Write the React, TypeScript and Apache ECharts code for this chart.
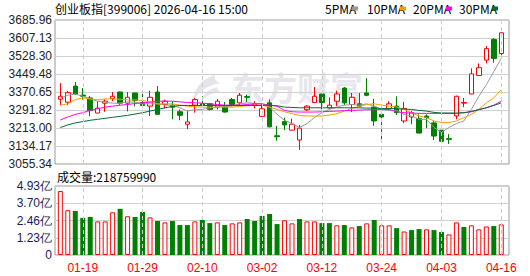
import React, { useEffect, useRef } from "react";
import * as echarts from "echarts";

const dates = ["01-14","01-15","01-16","01-19","01-20","01-21","01-22","01-23","01-26","01-27","01-28","01-29","01-30","02-02","02-03","02-04","02-05","02-06","02-09","02-10","02-11","02-12","02-13","02-24","02-25","02-26","02-27","03-02","03-03","03-04","03-05","03-06","03-09","03-10","03-11","03-12","03-13","03-16","03-17","03-18","03-19","03-20","03-23","03-24","03-25","03-26","03-27","03-30","03-31","04-01","04-02","04-03","04-07","04-08","04-09","04-10","04-13","04-14","04-15","04-16"];

const opens = [3339.0,3326.0,3396.6,3357.0,3344.7,3278.5,3321.7,3341.8,3370.6,3321.7,3366.3,3324.6,3308.7,3370.6,3315.9,3313.0,3284.3,3229.5,3313.0,3318.8,3318.8,3304.4,3308.7,3337.5,3323.1,3350.5,3313.0,3264.1,3323.1,3179.1,3241.0,3203.6,3160.4,3292.9,3324.6,3362.0,3301.5,3330.3,3387.9,3315.9,3318.8,3366.3,3304.4,3272.7,3298.6,3308.7,3243.9,3261.2,3254.0,3265.5,3235.3,3203.6,3166.2,3265.5,3321.7,3362.0,3442.6,3510.3,3601.0,3539.1];
const closes = [3351.9,3367.8,3362.0,3352.0,3290.0,3300.1,3330.3,3351.9,3321.7,3347.6,3333.2,3311.6,3347.6,3272.7,3330.3,3304.0,3268.4,3239.6,3337.5,3313.0,3294.3,3330.3,3282.8,3315.9,3356.3,3347.6,3318.8,3297.2,3218.0,3174.8,3226.6,3229.5,3212.2,3308.7,3351.9,3324.6,3313.0,3362.0,3323.1,3347.6,3308.7,3356.3,3243.9,3261.2,3318.8,3279.9,3298.6,3279.9,3190.7,3258.3,3177.7,3154.6,3163.3,3351.9,3324.6,3449.9,3477.2,3560.7,3517.5,3629.9];
const lows = [3313.0,3313.0,3358.0,3337.6,3264.1,3277.0,3284.0,3330.3,3313.0,3285.7,3307.3,3301.5,3265.5,3271.3,3298.6,3251.0,3246.8,3207.9,3279.9,3311.6,3290.0,3294.3,3279.9,3311.6,3308.7,3327.4,3298.6,3262.6,3215.1,3157.5,3203.6,3200.7,3117.2,3287.1,3323.1,3294.3,3298.6,3308.7,3313.0,3282.8,3304.4,3351.9,3222.3,3157.5,3290.0,3269.9,3233.9,3229.5,3190.7,3212.2,3160.4,3154.6,3143.1,3251.1,3304.4,3360.6,3442.6,3495.9,3498.8,3529.0];
const highs = [3409.5,3375.0,3413.9,3388.0,3353.4,3330.3,3339.0,3370.6,3372.0,3370.6,3367.8,3362.0,3376.4,3396.6,3337.5,3330.0,3294.3,3290.0,3344.7,3351.9,3323.1,3340.4,3327.4,3344.7,3366.3,3359.1,3330.3,3318.8,3337.5,3222.3,3258.3,3254.0,3226.6,3313.0,3392.3,3362.0,3347.6,3376.4,3392.3,3366.3,3366.3,3431.1,3340.4,3274.2,3330.3,3351.9,3327.4,3287.1,3272.7,3272.7,3243.9,3203.6,3186.3,3354.8,3344.7,3474.3,3495.9,3572.3,3606.8,3632.7];

const volumes = [457000000,320000000,315000000,265000000,272000000,240000000,240000000,305000000,330000000,277000000,272000000,308000000,269000000,243000000,233000000,243000000,214000000,214000000,240000000,250000000,228000000,233000000,214000000,226000000,233000000,257000000,243000000,279000000,293000000,221000000,248000000,226000000,257000000,240000000,240000000,228000000,228000000,212000000,214000000,197000000,207000000,226000000,250000000,212000000,212000000,192000000,168000000,178000000,185000000,183000000,178000000,164000000,147000000,233000000,200000000,212000000,183000000,204000000,207000000,218759990];

const ma5 = [3344.7,3356.2,3362.0,3351.9,3340.4,3330.3,3326.0,3321.7,3321.7,3327.4,3326.0,3318.8,3318.8,3318.8,3313.0,3313.0,3301.5,3287.1,3292.9,3294.3,3301.5,3304.4,3307.3,3308.7,3318.8,3323.1,3321.7,3318.8,3304.4,3272.7,3246.8,3232.4,3215.0,3232.4,3258.3,3279.9,3294.3,3304.4,3313.0,3315.9,3313.0,3318.8,3308.7,3294.3,3290.0,3290.0,3272.7,3265.5,3251.1,3251.1,3215.0,3193.5,3215.0,3232.4,3243.9,3294.3,3351.9,3402.3,3459.9,3517.5];
const ma10 = [3313.0,3318.8,3337.5,3344.7,3340.4,3336.1,3340.4,3340.4,3339.0,3336.1,3336.1,3333.2,3327.4,3318.8,3318.8,3318.8,3313.0,3308.7,3305.8,3304.4,3304.4,3304.4,3304.4,3304.4,3307.3,3310.2,3313.0,3313.0,3304.4,3294.3,3284.2,3275.6,3268.4,3265.5,3265.5,3265.5,3269.9,3275.6,3287.1,3298.6,3308.7,3315.9,3318.8,3313.0,3308.7,3304.4,3294.3,3279.9,3265.5,3258.3,3243.9,3236.7,3236.7,3243.9,3258.3,3272.7,3294.3,3323.1,3344.7,3380.7];
const ma20 = [3248.2,3261.2,3272.7,3279.9,3290.0,3297.2,3304.4,3308.7,3313.0,3315.9,3320.3,3323.1,3326.0,3330.3,3330.3,3330.3,3327.4,3324.6,3323.1,3321.7,3318.8,3315.9,3313.0,3313.0,3313.0,3315.9,3318.8,3318.8,3313.0,3308.7,3290.0,3284.2,3282.8,3282.8,3282.8,3284.2,3285.7,3287.1,3288.6,3290.0,3291.4,3292.9,3292.9,3294.3,3294.3,3284.2,3279.9,3278.5,3277.0,3277.0,3277.0,3277.0,3277.0,3277.0,3279.9,3284.2,3294.3,3301.5,3313.0,3330.3];
const ma30 = [3215.0,3226.6,3235.3,3241.0,3246.8,3251.1,3255.4,3259.8,3264.1,3268.4,3274.1,3279.9,3287.1,3294.3,3301.5,3307.3,3311.6,3311.6,3311.6,3311.6,3311.6,3311.6,3311.6,3311.6,3311.6,3311.6,3311.6,3311.6,3313.0,3310.2,3304.4,3303.0,3301.5,3301.5,3301.5,3301.5,3301.5,3301.5,3301.5,3301.5,3301.5,3300.1,3300.1,3298.6,3298.6,3297.2,3295.7,3294.3,3290.0,3287.1,3281.3,3278.5,3278.5,3278.5,3279.9,3285.7,3292.9,3301.5,3311.6,3323.1];

const priceTicks = ["3055.34","3134.17","3213.00","3291.82","3370.65","3449.48","3528.30","3607.13","3685.96"];
const volTicks = ["0","1.23亿","2.46亿","3.70亿","4.93亿"];
const labelDates = ["01-19","01-29","02-10","03-02","03-12","03-24","04-03","04-16"];

const title = "创业板指[399006] 2026-04-16 15:00";
const volTitle = "成交量:218759990";
const maNames = ["5PMA", "10PMA", "20PMA", "30PMA"];
const watermark = "东方财富";

const RED = "#ff0000";
const GREEN = "#008000";
const MA_COLORS = ["#999999", "#f0a000", "#ff00ff", "#006f33"];

echarts.graphic.registerShape(
  "wmlogo",
  echarts.graphic.extendPath(
    "M24 0 C12 3 3 12 2 27 C7 17 14 11 30 8 C25 7 23 4 24 0 Z M26 12 C18 14 12 19 10 27 C15 21 20 18 30 17 C27 16 26 14 26 12 Z",
    {}
  )
);

export default function App() {
  const ref = useRef<HTMLDivElement>(null);
  useEffect(() => {
    const chart = echarts.init(ref.current!, null, { renderer: "svg" });
    const candleData = dates.map((_, i) => [opens[i], closes[i], lows[i], highs[i]]);
    const volData = volumes.map((v, i) => {
      const up = i === 0 ? closes[i] >= opens[i] : closes[i] >= closes[i - 1];
      return {
        value: v,
        itemStyle: up
          ? { color: "#ffffff", borderColor: RED, borderWidth: 1 }
          : { color: GREEN, borderColor: GREEN, borderWidth: 0 },
      };
    });
    const vLines = {
      silent: true,
      symbol: ["none", "none"],
      label: { show: false },
      lineStyle: { color: "#cccccc", type: [4, 3], width: 1 },
      data: labelDates.map((d) => ({ xAxis: d })),
    };
    const font = "'Liberation Sans', Arial, sans-serif";
    const legendX = [325, 367, 413, 459];
    const legendMarkX = [352, 400, 446, 492];
    const graphics: any[] = [
      {
        type: "text",
        left: 55,
        top: 2,
        style: { text: title, fill: "#000", font: "12px 'Noto Sans CJK SC', sans-serif" },
      },
      {
        type: "text",
        left: 57,
        top: 170,
        style: { text: volTitle, fill: "#000", font: "12px 'Noto Sans CJK SC', sans-serif" },
      },
      {
        type: "wmlogo",
        x: 191,
        y: 75,
        z: -1,
        style: { fill: "rgba(205,205,218,0.55)" },
      },
      {
        type: "text",
        left: 231,
        top: 70,
        z: -1,
        style: {
          text: watermark,
          fill: "rgba(205,205,218,0.5)",
          font: "bold 33px 'Noto Sans CJK SC', sans-serif",
        },
      },
    ];
    maNames.forEach((n, k) => {
      graphics.push({
        type: "text",
        left: legendX[k],
        top: 2,
        style: { text: n, fill: "#000", font: "12px 'Noto Sans CJK SC', sans-serif" },
      });
      graphics.push({
        type: "rect",
        shape: { x: legendMarkX[k], y: 6.5, width: 6, height: 4 },
        style: { fill: MA_COLORS[k] },
      });
    });

    const option: any = {
      animation: false,
      backgroundColor: "#ffffff",
      textStyle: { fontFamily: font },
      grid: [
        { left: 55, top: 20, width: 454, height: 144, show: true, borderColor: "#999999", borderWidth: 1, backgroundColor: "transparent" },
        { left: 56.6, top: 20, width: 448.4, height: 144 },
        { left: 55, top: 186, width: 454, height: 69, show: true, borderColor: "#999999", borderWidth: 1, backgroundColor: "transparent" },
        { left: 56.6, top: 186, width: 448.4, height: 69 },
      ],
      xAxis: [
        { type: "value", gridIndex: 0, min: 0, max: 1, show: false },
        { type: "category", gridIndex: 1, data: dates, boundaryGap: true, show: false },
        { type: "value", gridIndex: 2, min: 0, max: 1, show: false },
        {
          type: "category",
          gridIndex: 3,
          data: dates,
          boundaryGap: true,
          axisLine: { show: false },
          axisTick: { show: false },
          splitLine: { show: false },
          axisLabel: {
            interval: (idx: number) => (idx - 3) % 8 === 0,
            color: RED,
            fontSize: 12,
            margin: 7,
            fontFamily: font,
          },
        },
      ],
      yAxis: [
        {
          type: "value",
          gridIndex: 0,
          min: 0,
          max: 8,
          interval: 1,
          axisLine: { show: false },
          axisTick: { show: false },
          axisLabel: { formatter: (v: number) => priceTicks[v], color: "#222", fontSize: 12, margin: 3, fontFamily: font },
          splitLine: { lineStyle: { color: "#d0d0d0", width: 1 } },
        },
        { type: "value", gridIndex: 1, min: 3055.34, max: 3685.96, show: false, splitLine: { show: false } },
        {
          type: "value",
          gridIndex: 2,
          min: 0,
          max: 4,
          interval: 1,
          axisLine: { show: false },
          axisTick: { show: false },
          axisLabel: { formatter: (v: number) => volTicks[v], color: "#1a1a5a", fontSize: 12, margin: 3, fontFamily: font },
          splitLine: { lineStyle: { color: "#d0d0d0", width: 1 } },
        },
        { type: "value", gridIndex: 3, min: 0, max: 493000000, show: false, splitLine: { show: false } },
      ],
      series: [
        {
          type: "candlestick",
          xAxisIndex: 1,
          yAxisIndex: 1,
          data: candleData,
          barWidth: 5,
          itemStyle: {
            color: "#ffffff",
            color0: GREEN,
            borderColor: RED,
            borderColor0: GREEN,
            borderWidth: 1,
          },
          markLine: vLines,
          z: 3,
        },
        ...[ma5, ma10, ma20, ma30].map((d, k) => ({
          type: "line",
          xAxisIndex: 1,
          yAxisIndex: 1,
          data: d,
          showSymbol: false,
          symbol: "none",
          lineStyle: { color: MA_COLORS[k], width: 1 },
          z: 4,
        })),
        {
          type: "bar",
          xAxisIndex: 3,
          yAxisIndex: 3,
          data: volData,
          barWidth: 5,
          markLine: vLines,
        },
      ],
      graphic: graphics,
    };
    chart.setOption(option);
    return () => chart.dispose();
  }, []);
  return <div ref={ref} style={{ position: "fixed", left: 0, top: 0, width: 530, height: 276 }} />;
}
